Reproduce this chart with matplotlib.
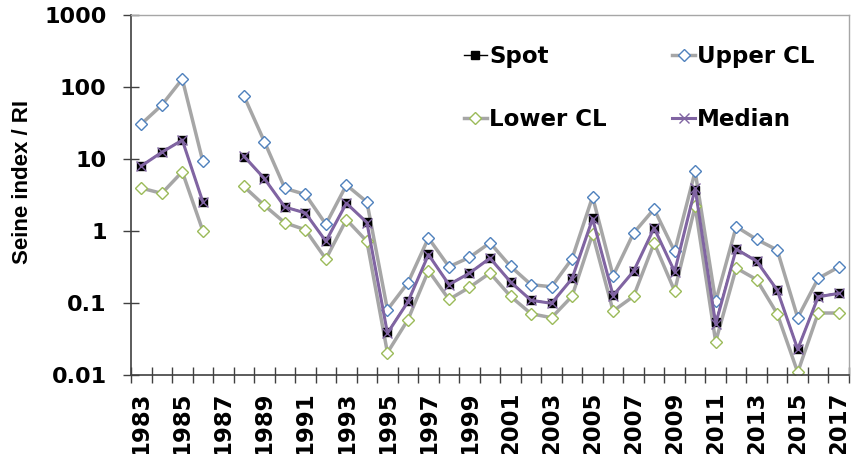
import numpy as np
import matplotlib
matplotlib.use('Agg')
import matplotlib.pyplot as plt

plt.rcParams['font.family'] = ['DejaVu Sans']
plt.rcParams['font.weight'] = 'bold'

years = list(range(1983, 2018))
nan = np.nan

spot = [8.07, 12.5, 18.5, 2.55, nan, 10.7, 5.38, 2.17, 1.80, 0.726,
        2.45, 1.33, 0.039, 0.105, 0.473, 0.182, 0.261, 0.426, 0.198, 0.110,
        0.100, 0.220, 1.50, 0.128, 0.278, 1.11, 0.275, 3.75, 0.0544, 0.568,
        0.386, 0.153, 0.0232, 0.124, 0.138]
median = [8.0, 12.4, 18.3, 2.55, nan, 11.0, 5.35, 2.15, 1.78, 0.72,
          2.43, 1.31, 0.038, 0.104, 0.47, 0.18, 0.26, 0.42, 0.196, 0.109,
          0.099, 0.218, 1.48, 0.127, 0.276, 1.10, 0.272, 3.9, 0.051, 0.56,
          0.38, 0.151, 0.0228, 0.122, 0.136]
upper = [30.6, 56, 129, 9.27, nan, 75.7, 17.5, 3.91, 3.22, 1.24,
         4.35, 2.53, 0.0807, 0.191, 0.80, 0.319, 0.43, 0.687, 0.323, 0.18,
         0.168, 0.412, 2.99, 0.239, 0.937, 2.02, 0.521, 6.73, 0.105, 1.15,
         0.764, 0.545, 0.0625, 0.22, 0.316]
lower = [3.95, 3.33, 6.65, 1.01, nan, 4.16, 2.27, 1.30, 1.04, 0.408,
         1.44, 0.718, 0.0204, 0.0586, 0.281, 0.112, 0.165, 0.261, 0.124, 0.071,
         0.0625, 0.124, 0.908, 0.0774, 0.124, 0.681, 0.147, 2.2, 0.029, 0.306,
         0.211, 0.071, 0.0109, 0.0726, 0.0726]

x = np.arange(len(years))

fig = plt.figure(figsize=(8.51, 4.54), dpi=100)
ax = fig.add_axes([131 / 851, 79 / 454, 718 / 851, 360 / 454])

ax.plot(x, upper, color='#A6A6A6', lw=2.5, marker='D', ms=6, mfc='white',
        mec='#4F81BD', mew=1.0, label='Upper CL', zorder=2)
ax.plot(x, lower, color='#A6A6A6', lw=2.5, marker='D', ms=6, mfc='white',
        mec='#9BBB59', mew=1.0, label='Lower CL', zorder=2)
ax.plot(x, spot, color='black', lw=1.0, marker='s', ms=6, mfc='black',
        mec='black', label='Spot', zorder=3)
ax.plot(x, median, color='#8064A2', lw=2.2, marker='x', ms=7, mec='#8064A2',
        mew=1.0, label='Median', zorder=4)

ax.set_yscale('log')
ax.set_ylim(0.01, 1000)
ax.set_yticks([0.01, 0.1, 1, 10, 100, 1000])
ax.set_yticklabels(['0.01', '0.1', '1', '10', '100', '1000'])
ax.minorticks_off()
ax.set_xlim(-0.5, len(years) - 0.5)

# ticks sit between categories, labels on every other year
ax.set_xticks(np.arange(len(years) + 1) - 0.5)
ax.set_xticklabels([])
ax.set_xticks(x[::2], minor=True)
ax.set_xticklabels([str(y) for y in years[::2]], minor=True, rotation=90,
                   fontsize=16.4, fontweight='bold')
ax.tick_params(axis='x', which='major', direction='inout', length=11,
               width=1, color='#404040')
ax.tick_params(axis='x', which='minor', length=0, pad=12)
ax.tick_params(axis='y', direction='inout', length=11, width=1,
               color='#404040', labelsize=16, pad=12)

ax.set_ylabel('Seine index / RI', fontsize=16, fontweight='bold',
              family='Liberation Sans', labelpad=8)
ax.yaxis.label.set_y(0.537)

for s in ['left', 'bottom']:
    ax.spines[s].set_color('#404040')
    ax.spines[s].set_linewidth(1.2)
for s in ['top', 'right']:
    ax.spines[s].set_color('#A6A6A6')
    ax.spines[s].set_linewidth(1.0)

h, l = ax.get_legend_handles_labels()
order = [2, 1, 0, 3]
ax.legend([h[i] for i in order], [l[i] for i in order], ncol=2,
          frameon=False, loc='upper left',
          bbox_to_anchor=(464 / 851, 1 - 45 / 454),
          bbox_transform=fig.transFigure,
          prop={'size': 16.5, 'weight': 'bold'},
          handlelength=1.0, handletextpad=0.1, columnspacing=2.85,
          labelspacing=1.75, borderpad=0, borderaxespad=0)

fig.savefig('out.png', dpi=100)
